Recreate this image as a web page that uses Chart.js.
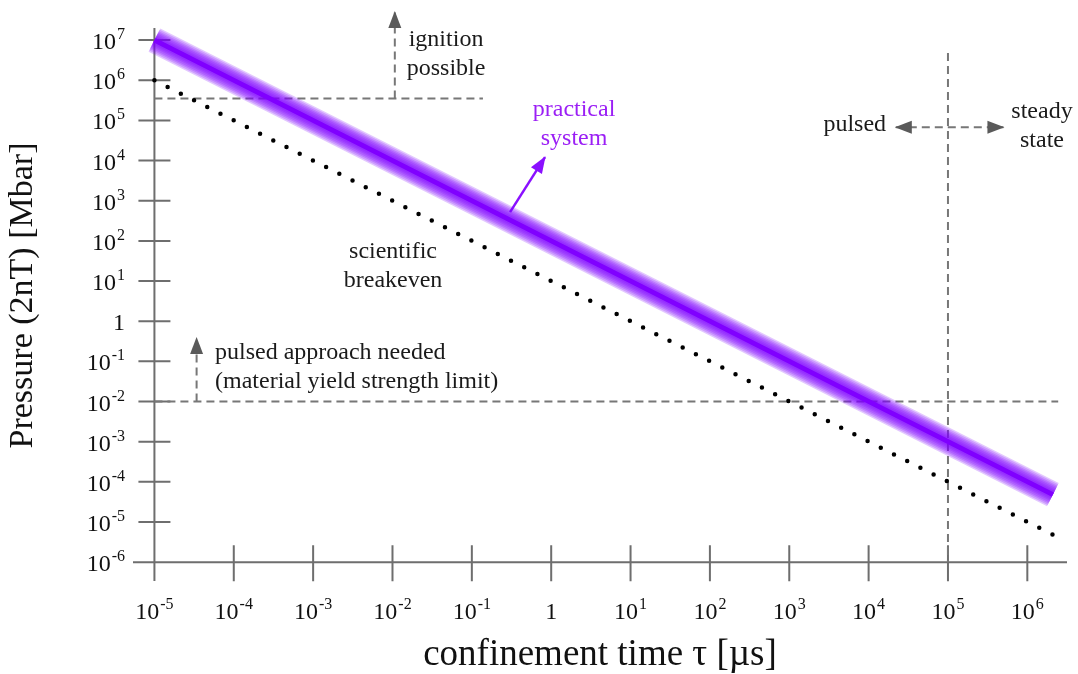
<!DOCTYPE html>
<html lang="en">
<head>
<meta charset="utf-8">
<script src="https://cdn.jsdelivr.net/npm/chart.js"></script>
<title>Pressure vs confinement time</title>
<style>body{margin:0;background:#fff;}</style>
</head>
<body>
<canvas id="myChart" width="1078" height="674"></canvas>
<script>
// tick values (decades)
const xTicks = [1e-5, 1e-4, 1e-3, 1e-2, 1e-1, 1, 1e1, 1e2, 1e3, 1e4, 1e5, 1e6];
const yTicks = [1e7, 1e6, 1e5, 1e4, 1e3, 1e2, 1e1, 1, 1e-1, 1e-2, 1e-3, 1e-4, 1e-5, 1e-6];
const yAxisTop = 2e7;

// practical system band
const practicalTau = [1e-5, 2.1e6];
const practicalP = [1e7, 4.8e-5];
// scientific breakeven (dotted)
const breakevenTau = [1e-5, 2.24e6];
const breakevenP = [1e6, 4.5e-6];
// ignition threshold and its arrow
const ignitionTau = [1e-5, 0.138];
const ignitionP = [3.5e5, 3.5e5];
const ignitionArrowTau = [0.0107, 0.0107];
const ignitionArrowP = [3.5e5, 5e7];
// material yield strength limit and its arrow
const yieldTau = [1e-5, 2.45e6];
const yieldP = [1e-2, 1e-2];
const yieldArrowTau = [3.4e-5, 3.4e-5];
const yieldArrowP = [1e-2, 0.38];
// pulsed / steady state split
const steadyTau = [1e5, 1e5];
const steadyP = [4.8e6, 1e-6];
const regimeTau = [2.2e4, 5e5];
const regimeP = [6.8e4, 6.8e4];
// pointer to "practical system"
const pointerTau = [0.303, 0.836];
const pointerP = [520, 1.22e4];

const SERIF = "'Liberation Serif', 'Times New Roman', serif";
const GRAY = '#777';

function pts(xs, ys) { return xs.map((x, i) => ({x: x, y: ys[i]})); }
function series(xs, ys, style) {
	return Object.assign({data: pts(xs, ys), pointRadius: 0, fill: false, tension: 0, borderCapStyle: 'butt'}, style);
}
function dashed(xs, ys, extra) {
	return series(xs, ys, Object.assign({borderColor: GRAY, borderWidth: 2, borderDash: [8, 5]}, extra || {}));
}

// band: solid core on top, then stacked translucent layers for the glow
const bandWidths = [5, 8, 11, 14, 17, 20, 23, 26];
const datasets = bandWidths.map((w, i) => series(practicalTau, practicalP, {
	borderColor: i === 0 ? '#8000ff' : 'rgba(128,0,255,0.22)',
	borderWidth: w
}));
datasets.push(series(breakevenTau, breakevenP, {borderColor: '#000', borderWidth: 4.5, borderDash: [0, 14.8], borderCapStyle: 'round'}));
datasets.push(series(pointerTau, pointerP, {borderColor: '#8a10ff', borderWidth: 2.5, arrowEnd: true, arrowColor: '#8a10ff'}));
datasets.push(dashed(ignitionTau, ignitionP));
datasets.push(dashed(ignitionArrowTau, ignitionArrowP, {arrowEnd: true}));
datasets.push(dashed(yieldTau, yieldP));
datasets.push(dashed(yieldArrowTau, yieldArrowP, {arrowEnd: true}));
datasets.push(dashed(steadyTau, steadyP));
datasets.push(dashed(regimeTau, regimeP, {arrowEnd: true, arrowStart: true}));

// text notes, anchored in data coordinates
const notes = [
	{lines: ['ignition', 'possible'], x: 0.0473, y: 1e7, align: 'center', color: '#1a1a1a'},
	{lines: ['practical', 'system'], x: 1.94, y: 1.81e5, align: 'center', color: '#9b1ff5'},
	{lines: ['scientific', 'breakeven'], x: 0.01016, y: 52.5, align: 'center', color: '#1a1a1a'},
	{lines: ['pulsed approach needed', '(material yield strength limit)'], x: 5.8e-5, y: 0.16, align: 'left', color: '#1a1a1a'},
	{lines: ['pulsed'], x: 1.66e4, y: 7.64e4, align: 'right', color: '#1a1a1a'},
	{lines: ['steady', 'state'], x: 1.53e6, y: 1.61e5, align: 'center', color: '#1a1a1a'}
];

// "10" with a raised exponent
function powLabel(ctx, v, px, baseY, align) {
	const e = Math.round(Math.log10(v));
	const base = e === 0 ? '1' : '10';
	const exp = e === 0 ? '' : String(e);
	ctx.font = '24px ' + SERIF;
	const wb = ctx.measureText(base).width;
	ctx.font = '16px ' + SERIF;
	const we = exp ? ctx.measureText(exp).width + 1 : 0;
	const left = align === 'right' ? px - wb - we : px - (wb + we) / 2;
	ctx.textAlign = 'left';
	ctx.textBaseline = 'alphabetic';
	ctx.font = '24px ' + SERIF;
	ctx.fillText(base, left, baseY);
	if (exp) {
		ctx.font = '16px ' + SERIF;
		ctx.fillText(exp, left + wb + 1, baseY - 10);
	}
}

const axesPlugin = {
	id: 'crossAxes',
	beforeDatasetsDraw(chart) {
		const {ctx, chartArea, scales: {x, y}} = chart;
		const x0 = x.getPixelForValue(xTicks[0]);
		const y0 = y.getPixelForValue(yTicks[yTicks.length - 1]);
		ctx.save();
		ctx.strokeStyle = '#6e6e6e';
		ctx.lineWidth = 2;
		ctx.beginPath();
		ctx.moveTo(chartArea.left, y0); ctx.lineTo(chartArea.right, y0);
		ctx.moveTo(x0, y.getPixelForValue(yAxisTop)); ctx.lineTo(x0, chartArea.bottom);
		yTicks.slice(0, -1).forEach(v => {
			const py = y.getPixelForValue(v);
			ctx.moveTo(x0 - 16, py); ctx.lineTo(x0 + 16, py);
		});
		xTicks.slice(1).forEach(v => {
			const px = x.getPixelForValue(v);
			ctx.moveTo(px, y0 - 17); ctx.lineTo(px, y0 + 19);
		});
		ctx.stroke();
		ctx.fillStyle = '#111';
		yTicks.forEach(v => powLabel(ctx, v, chartArea.left - 8, y.getPixelForValue(v) + 9, 'right'));
		xTicks.forEach(v => powLabel(ctx, v, x.getPixelForValue(v), y0 + 57, 'center'));
		ctx.restore();
	}
};

function head(ctx, from, to, len, half, color) {
	const a = Math.atan2(to.y - from.y, to.x - from.x);
	ctx.save();
	ctx.translate(to.x, to.y);
	ctx.rotate(a);
	ctx.beginPath();
	ctx.moveTo(1, 0); ctx.lineTo(-len, half); ctx.lineTo(-len, -half); ctx.closePath();
	ctx.fillStyle = color;
	ctx.fill();
	ctx.restore();
}

const annotatePlugin = {
	id: 'annotate',
	afterDatasetsDraw(chart) {
		const {ctx, scales: {x, y}} = chart;
		chart.data.datasets.forEach((ds, i) => {
			const p = chart.getDatasetMeta(i).data;
			if (p.length < 2) return;
			const color = ds.arrowColor || '#5a5a5a';
			if (ds.arrowEnd) head(ctx, p[p.length - 2], p[p.length - 1], 16, 6.5, color);
			if (ds.arrowStart) head(ctx, p[1], p[0], 16, 6.5, color);
		});
		ctx.save();
		ctx.font = '24px ' + SERIF;
		ctx.textBaseline = 'middle';
		notes.forEach(n => {
			const px = x.getPixelForValue(n.x);
			const py = y.getPixelForValue(n.y);
			ctx.fillStyle = n.color;
			ctx.textAlign = n.align;
			n.lines.forEach((t, k) => ctx.fillText(t, px, py + k * 29));
		});
		ctx.restore();
	}
};

new Chart(document.getElementById('myChart'), {
	type: 'line',
	data: {datasets: datasets},
	plugins: [axesPlugin, annotatePlugin],
	options: {
		responsive: false,
		animation: false,
		devicePixelRatio: 1,
		layout: {padding: {top: 10, right: 11, left: 0, bottom: 0}},
		plugins: {legend: {display: false}, tooltip: {enabled: false}},
		scales: {
			x: {
				type: 'logarithmic',
				position: 'bottom',
				min: Math.pow(10, -5.27),
				max: Math.pow(10, 6.5),
				bounds: 'data',
				grid: {display: false, drawTicks: false},
				border: {display: false},
				afterFit: s => { s.height = 93; s.paddingLeft = 0; s.paddingRight = 0; },
				afterBuildTicks: s => { s.ticks = xTicks.map(v => ({value: v})); },
				ticks: {display: false},
				title: {
					display: true, text: 'confinement time τ [µs]', color: '#111',
					font: {family: SERIF, size: 37, lineHeight: 1}, padding: {top: 0, bottom: 0}
				}
			},
			y: {
				type: 'logarithmic',
				position: 'left',
				min: Math.pow(10, -6.47),
				max: Math.pow(10, 7.75),
				bounds: 'data',
				grid: {display: false, drawTicks: false},
				border: {display: false},
				afterFit: s => { s.width = 133; s.paddingTop = 0; s.paddingBottom = 0; },
				afterBuildTicks: s => { s.ticks = yTicks.map(v => ({value: v})); },
				ticks: {display: false},
				title: {
					display: true, text: 'Pressure (2nT) [Mbar]', color: '#111',
					font: {family: SERIF, size: 34}, padding: {top: 3, bottom: 0}
				}
			}
		}
	}
});
</script>
</body>
</html>
